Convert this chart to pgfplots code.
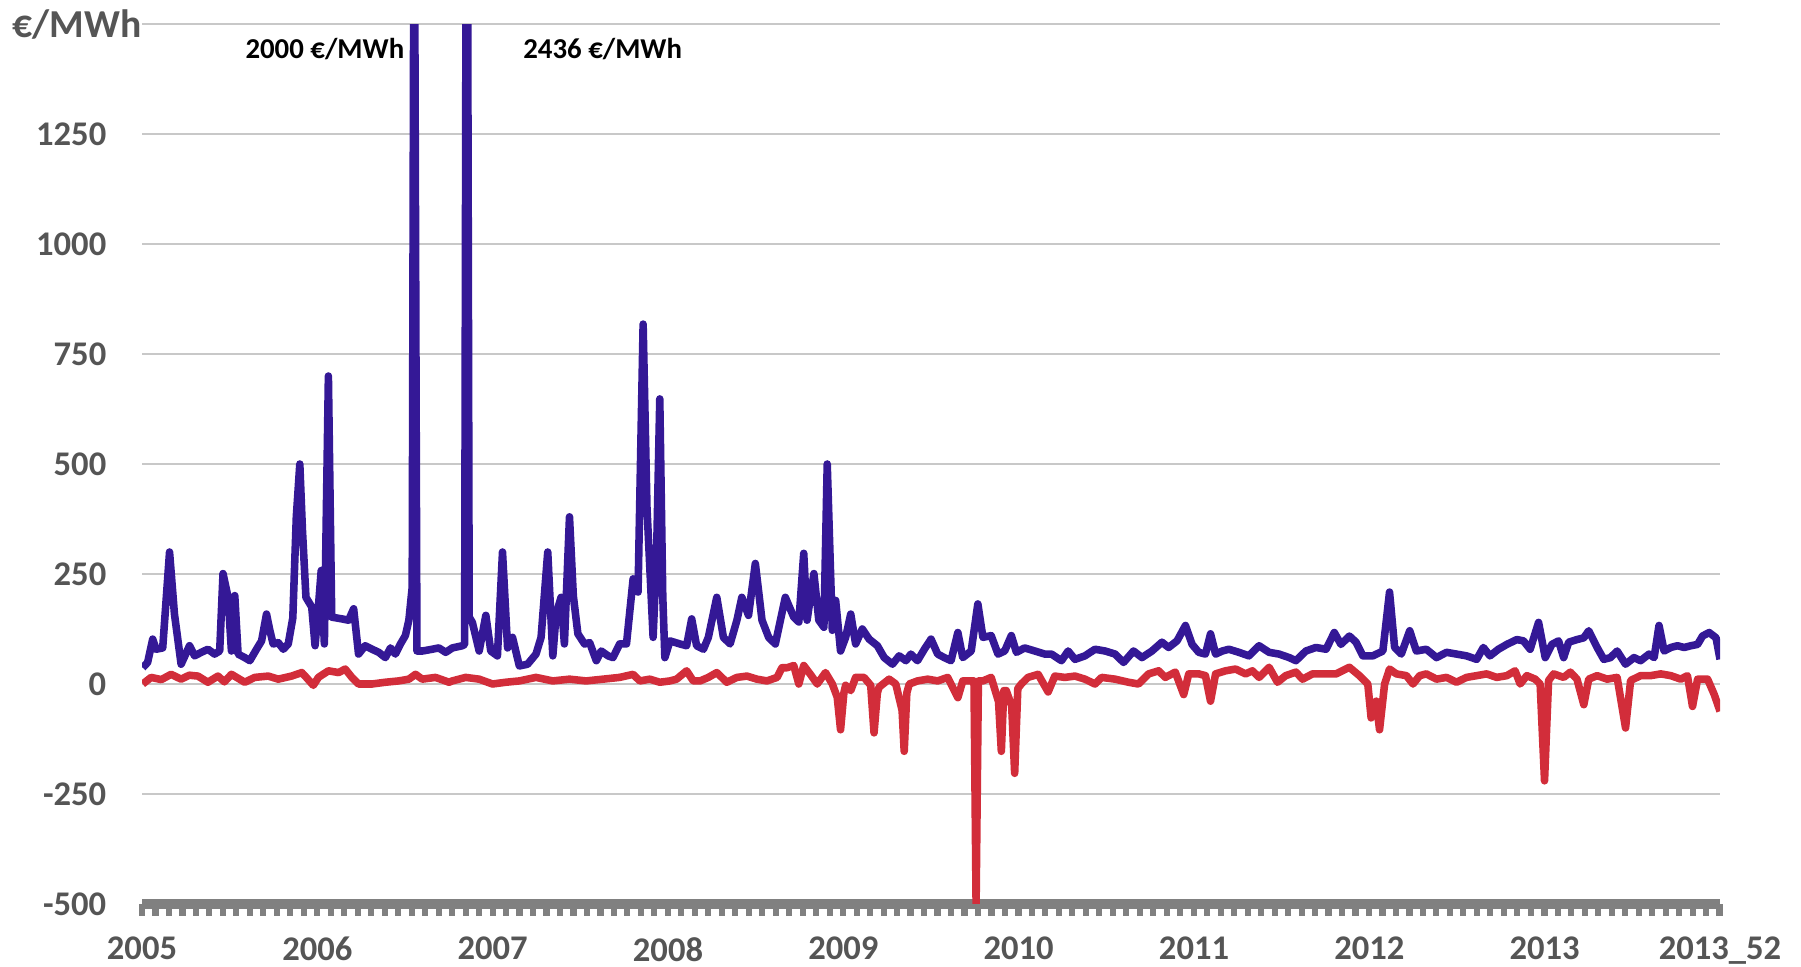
\documentclass[border=0pt]{standalone}
\usepackage{fontspec}
\setmainfont{Carlito}
\usepackage{pgfplots}
\pgfplotsset{compat=1.18}
\definecolor{lblue}{RGB}{52,24,150}
\definecolor{lred}{RGB}{210,45,58}
\definecolor{txtgray}{RGB}{85,85,85}
\definecolor{gridgray}{RGB}{200,200,200}
\definecolor{axgray}{RGB}{128,128,128}
\begin{document}
\begin{tikzpicture}
\begin{axis}[
  scale only axis,
  width=438.1pt, height=244.3pt,
  xmin=2005, xmax=2014, ymin=-500, ymax=1500,
  clip mode=individual,
  axis x line*=bottom,
  axis y line*=left,
  y axis line style={draw=none},
  x axis line style={line width=2.8pt, draw=axgray},
  xtick={2005,2006,...,2014},
  xticklabels={2005,2006,2007,2008,2009,2010,2011,2012,2013,2013\_52},
  minor xtick={2005,2005.0769,...,2014},
  tick align=outside,
  major tick length=3.2pt,
  minor tick length=3.2pt,
  x tick style={line width=1.7pt, draw=axgray},
  every minor tick/.style={line width=1.7pt, draw=axgray},
  y tick style={draw=none},
  ytick={-500,-250,...,1500},
  yticklabels={-500,-250,0,250,500,750,1000,1250,{}},
  ymajorgrids,
  major grid style={line width=0.7pt, draw=gridgray},
  ticklabel style={font=\fontsize{9.6}{11}\selectfont\bfseries, text=txtgray},
  xticklabel style={yshift=-2.5pt},
  yticklabel style={xshift=-3.2pt},
  /pgf/number format/assume math mode=true,
]
\addplot[lblue, line width=2.1pt, line join=round, mark=none] coordinates {
(2005.004,37) (2005.032,49) (2005.061,102) (2005.080,79) (2005.118,82) (2005.157,300)
(2005.185,159) (2005.223,45) (2005.271,87) (2005.300,64) (2005.338,72) (2005.376,79)
(2005.414,68) (2005.443,75) (2005.462,251) (2005.491,197) (2005.510,75) (2005.529,201)
(2005.548,68) (2005.586,60) (2005.615,53) (2005.653,79) (2005.682,98) (2005.710,159)
(2005.729,122) (2005.748,91) (2005.777,94) (2005.806,79) (2005.834,91) (2005.860,150)
(2005.880,380) (2005.900,500) (2005.915,350) (2005.935,197) (2005.968,175) (2005.987,87)
(2006.006,175) (2006.022,258) (2006.040,91) (2006.063,700) (2006.082,152) (2006.140,148)
(2006.178,145) (2006.207,171) (2006.235,68) (2006.273,87) (2006.312,79) (2006.350,72)
(2006.388,60) (2006.417,82) (2006.445,68) (2006.474,91) (2006.502,110) (2006.522,145)
(2006.541,220) (2006.552,2000) (2006.568,75) (2006.600,75) (2006.655,79) (2006.693,82)
(2006.732,72) (2006.770,82) (2006.827,87) (2006.840,90) (2006.852,2436) (2006.866,152)
(2006.884,140) (2006.923,75) (2006.961,156) (2006.989,75) (2007.027,64) (2007.056,300)
(2007.085,82) (2007.113,106) (2007.152,41) (2007.199,45) (2007.247,68) (2007.276,106)
(2007.314,300) (2007.343,64) (2007.362,159) (2007.390,197) (2007.409,91) (2007.438,380)
(2007.460,200) (2007.486,114) (2007.524,91) (2007.553,94) (2007.591,53) (2007.619,75)
(2007.658,64) (2007.686,60) (2007.724,91) (2007.763,91) (2007.801,239) (2007.829,209)
(2007.858,818) (2007.880,400) (2007.915,106) (2007.935,300) (2007.953,648) (2007.970,200)
(2007.982,60) (2008.011,98) (2008.068,91) (2008.106,87) (2008.135,148) (2008.163,87)
(2008.202,79) (2008.230,106) (2008.278,197) (2008.316,106) (2008.354,91) (2008.393,145)
(2008.421,197) (2008.459,156) (2008.498,274) (2008.536,145) (2008.574,106) (2008.612,91)
(2008.669,197) (2008.717,152) (2008.746,141) (2008.774,297) (2008.793,145) (2008.832,251)
(2008.860,145) (2008.889,129) (2008.908,500) (2008.937,122) (2008.956,190) (2008.984,75)
(2009.013,106) (2009.042,159) (2009.070,91) (2009.108,125) (2009.147,102) (2009.194,87)
(2009.233,60) (2009.280,45) (2009.318,64) (2009.357,53) (2009.385,68) (2009.423,53)
(2009.462,79) (2009.500,102) (2009.538,68) (2009.576,60) (2009.614,53) (2009.653,117)
(2009.681,60) (2009.729,75) (2009.767,182) (2009.796,106) (2009.843,110) (2009.882,68)
(2009.920,75) (2009.958,110) (2009.987,72) (2010.034,82) (2010.092,75) (2010.149,68)
(2010.187,68) (2010.244,53) (2010.282,75) (2010.321,56) (2010.378,64) (2010.435,79)
(2010.493,75) (2010.550,68) (2010.598,49) (2010.655,75) (2010.703,60) (2010.760,75)
(2010.817,95) (2010.855,83) (2010.903,98) (2010.951,133) (2010.989,90) (2011.027,72)
(2011.065,68) (2011.094,114) (2011.123,68) (2011.161,75) (2011.199,79) (2011.256,72)
(2011.313,64) (2011.371,87) (2011.428,72) (2011.485,68) (2011.543,60) (2011.581,53)
(2011.638,75) (2011.695,83) (2011.753,79) (2011.800,117) (2011.838,90) (2011.886,109)
(2011.924,95) (2011.963,64) (2012.020,64) (2012.077,75) (2012.115,209) (2012.144,83)
(2012.182,68) (2012.230,121) (2012.268,75) (2012.325,79) (2012.383,60) (2012.440,72)
(2012.497,68) (2012.554,64) (2012.612,56) (2012.650,83) (2012.688,64) (2012.736,79)
(2012.784,90) (2012.841,101) (2012.879,98) (2012.917,79) (2012.965,140) (2013.003,60)
(2013.041,90) (2013.079,98) (2013.108,60) (2013.137,95) (2013.184,101) (2013.223,105)
(2013.251,121) (2013.299,83) (2013.337,56) (2013.375,60) (2013.413,75) (2013.461,45)
(2013.509,60) (2013.547,53) (2013.595,68) (2013.624,60) (2013.652,133) (2013.681,75)
(2013.719,83) (2013.757,87) (2013.795,83) (2013.834,87) (2013.872,90) (2013.900,109)
(2013.938,117) (2013.977,105) (2014.000,56)
};
\addplot[lred, line width=2.1pt, line join=round, mark=none] coordinates {
(2005.004,0) (2005.052,15) (2005.110,10) (2005.166,22) (2005.223,11) (2005.270,20)
(2005.319,18) (2005.376,4) (2005.433,18) (2005.470,5) (2005.510,22) (2005.586,4)
(2005.643,15) (2005.720,18) (2005.777,11) (2005.853,18) (2005.911,26) (2005.930,18)
(2005.977,-3) (2006.006,15) (2006.063,30) (2006.121,26) (2006.159,34) (2006.197,15)
(2006.235,0) (2006.312,0) (2006.388,4) (2006.464,7) (2006.522,11) (2006.560,22)
(2006.598,11) (2006.674,15) (2006.751,4) (2006.770,7) (2006.846,15) (2006.923,11)
(2006.999,0) (2007.075,4) (2007.152,7) (2007.247,15) (2007.343,7) (2007.438,11)
(2007.533,7) (2007.629,11) (2007.724,15) (2007.801,22) (2007.839,7) (2007.896,11)
(2007.953,4) (2008.011,7) (2008.049,11) (2008.106,30) (2008.144,7) (2008.183,7)
(2008.230,15) (2008.278,26) (2008.335,4) (2008.393,15) (2008.450,18) (2008.507,11)
(2008.564,7) (2008.622,15) (2008.650,37) (2008.679,37) (2008.717,42) (2008.746,0)
(2008.774,42) (2008.812,22) (2008.851,0) (2008.898,26) (2008.937,0) (2008.965,-30)
(2008.984,-104) (2009.003,-20) (2009.013,-3) (2009.042,-15) (2009.070,15) (2009.118,15)
(2009.156,-3) (2009.175,-111) (2009.194,-20) (2009.204,-7) (2009.261,11) (2009.299,0)
(2009.335,-60) (2009.347,-153) (2009.362,-20) (2009.376,0) (2009.423,7) (2009.481,11)
(2009.538,7) (2009.595,15) (2009.653,-31) (2009.681,7) (2009.745,7) (2009.757,-500)
(2009.770,7) (2009.796,7) (2009.843,15) (2009.885,-40) (2009.901,-153) (2009.915,-15)
(2009.929,-15) (2009.960,-50) (2009.977,-203) (2009.995,-10) (2010.015,0) (2010.053,15)
(2010.111,22) (2010.168,-18) (2010.206,18) (2010.263,15) (2010.321,18) (2010.378,11)
(2010.435,0) (2010.473,15) (2010.550,11) (2010.626,4) (2010.683,0) (2010.741,23)
(2010.798,30) (2010.836,15) (2010.893,27) (2010.941,-24) (2010.970,23) (2011.027,23)
(2011.065,19) (2011.094,-39) (2011.123,23) (2011.180,30) (2011.237,34) (2011.294,23)
(2011.333,30) (2011.371,15) (2011.428,38) (2011.476,4) (2011.523,19) (2011.581,27)
(2011.619,11) (2011.676,23) (2011.733,23) (2011.810,23) (2011.886,38) (2011.943,19)
(2011.991,0) (2012.010,-77) (2012.039,-39) (2012.058,-104) (2012.087,0) (2012.115,34)
(2012.154,23) (2012.211,19) (2012.249,0) (2012.287,19) (2012.325,23) (2012.383,11)
(2012.440,15) (2012.497,4) (2012.554,15) (2012.612,19) (2012.669,23) (2012.726,15)
(2012.784,19) (2012.831,30) (2012.860,0) (2012.898,19) (2012.946,11) (2012.974,0)
(2012.999,-220) (2013.022,8) (2013.051,23) (2013.108,15) (2013.146,27) (2013.184,11)
(2013.223,-47) (2013.251,11) (2013.299,19) (2013.356,11) (2013.413,15) (2013.461,-100)
(2013.490,8) (2013.547,19) (2013.604,19) (2013.662,23) (2013.719,19) (2013.776,11)
(2013.814,19) (2013.843,-51) (2013.872,11) (2013.929,11) (2013.967,-24) (2014.000,-62)
};
\node[anchor=east, font=\fontsize{8}{9}\selectfont\bfseries, inner sep=1pt] at (axis cs:2006.52,1443) {2000 €/MWh};
\node[anchor=west, font=\fontsize{8}{9}\selectfont\bfseries, inner sep=1pt] at (axis cs:2007.15,1443) {2436 €/MWh};
\coordinate (bbsw) at (rel axis cs:-0.0900,-0.0705);
\coordinate (bbne) at (rel axis cs:1.0513,1.0273);
\coordinate (ylab) at (rel axis cs:0,1);
\end{axis}
\node[anchor=east, font=\fontsize{11}{12}\selectfont\bfseries, text=txtgray, inner sep=0pt] at ([xshift=0pt]ylab) {€/MWh};
\pgfresetboundingbox
\path (bbsw) rectangle (bbne);
\end{tikzpicture}
\end{document}
